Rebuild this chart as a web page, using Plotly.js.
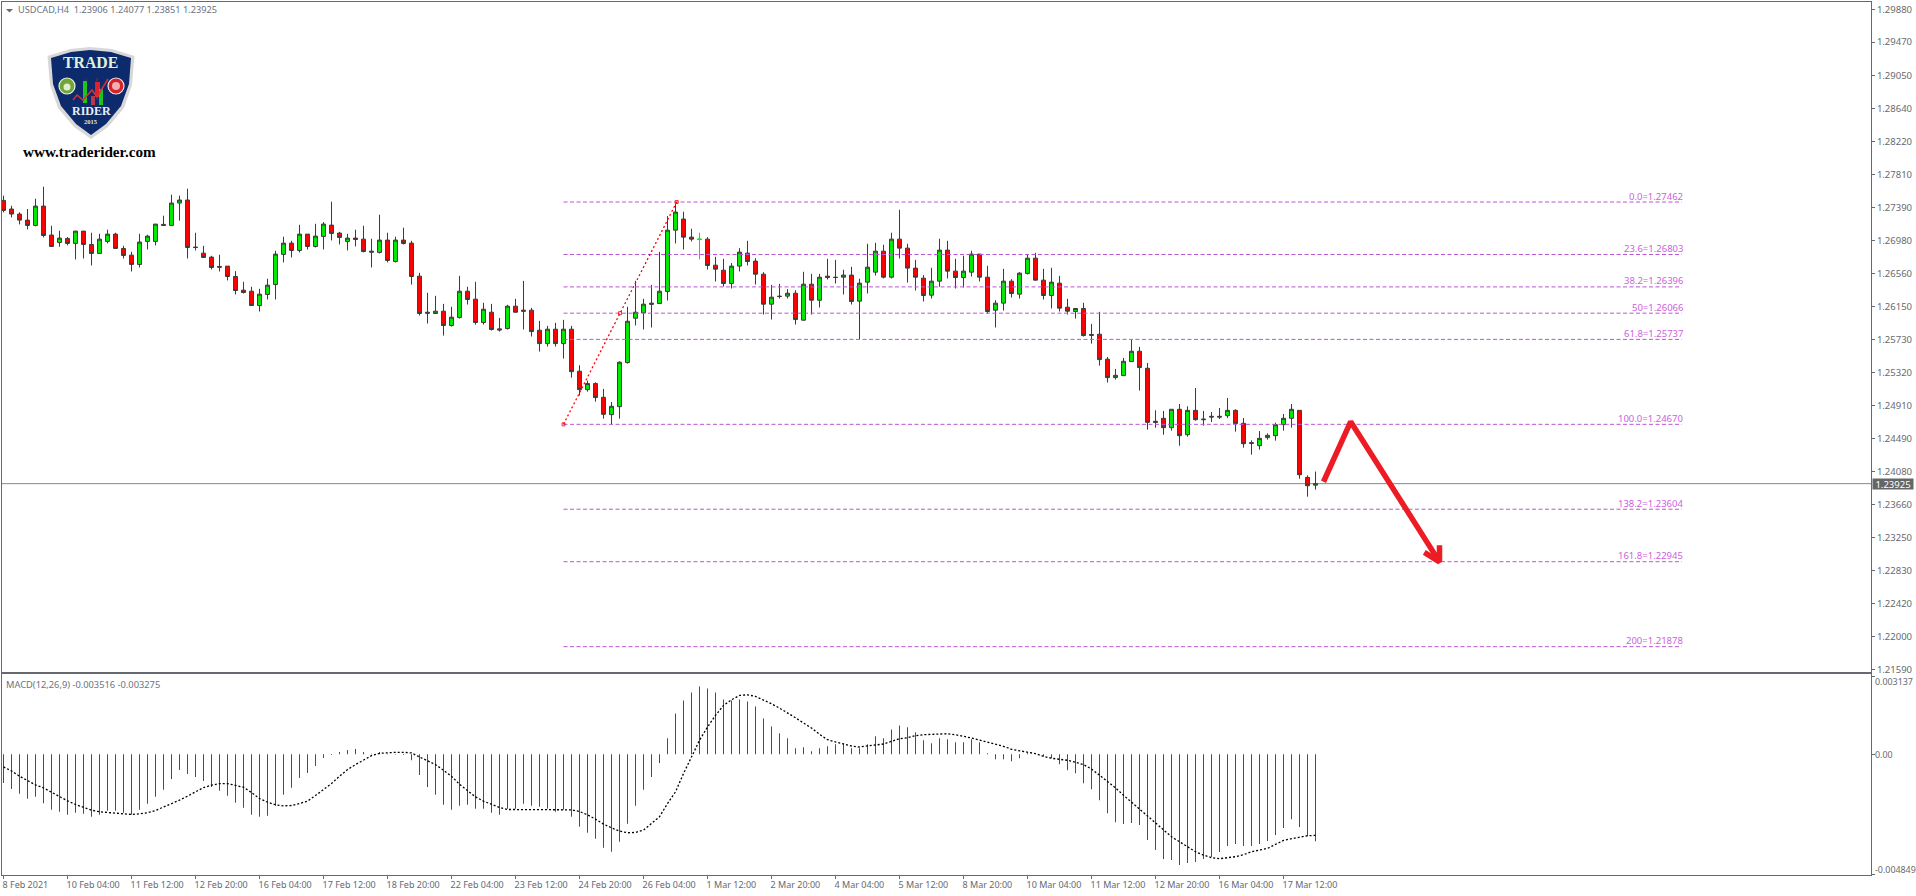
<!DOCTYPE html>
<html>
<head>
<meta charset="utf-8">
<title>USDCAD,H4</title>
<script src="https://cdn.plot.ly/plotly-3.0.1.min.js"></script>
<style>html,body{margin:0;padding:0;background:#fff;overflow:hidden}</style>
</head>
<body>
<div id="chart" style="width:1916px;height:896px"></div>
<script>
// Prices in 1e-5 units
const openPts = [
127482,127374,127311,127235,127168,127411,127047,126954,127005,126942,
127097,126929,126816,126967,127059,126879,126795,126678,126967,126967,
127181,127168,127449,127487,126896,126820,126770,126653,126657,126527,
126355,126342,126162,126301,126426,126804,126946,126854,127059,126904,
127030,127172,127072,126967,127009,126996,126845,126829,126984,126715,
126984,126946,126531,126078,126062,126091,125911,126011,126342,126242,
125949,126078,125869,125873,126154,126104,126104,125852,125684,125865,
125684,125865,125337,125106,125182,125010,124792,124892,125446,126003,
126070,126192,126187,126338,127109,127248,127021,126992,126996,126669,
126606,126439,126657,126820,126720,126556,126179,126280,126280,126317,
125978,126430,126229,126531,126518,126518,126544,126217,126456,126581,
126845,126518,126996,126883,126632,126506,126292,126468,126858,126594,
126514,126581,126808,126518,126104,126192,126468,126305,126565,126757,
126481,126288,126443,126141,126087,126125,125798,125802,125488,125257,
125282,125458,125588,125374,124708,124746,124628,124859,124540,124846,
124737,124771,124771,124779,124846,124683,124440,124402,124503,124528,
124666,124746,124846,124004,123906];
const highPts = [
127541,127415,127332,127374,127503,127654,127164,127101,127021,127097,
127097,127076,127063,127114,127076,126912,126837,127063,127051,127185,
127290,127554,127541,127629,127076,126912,126787,126799,126657,126594,
126460,126397,126372,126498,126850,127026,126975,127176,127059,127189,
127210,127466,127088,127063,127114,127164,127000,127302,127076,127026,
127139,126975,126573,126322,126284,126183,126146,126535,126397,126460,
126196,126183,126007,126171,126246,126472,126133,125970,125907,125944,
125982,125907,125412,125219,125198,125115,124951,125462,126146,126472,
126246,126422,126837,127285,127436,127340,127126,127076,127021,126774,
126749,126695,126883,126975,126757,126581,126422,126435,126368,126355,
126586,126560,126560,126749,126736,126611,126648,126498,126938,126950,
126925,127076,127365,126938,126736,126544,126636,127000,126975,126749,
126787,126850,126808,126661,126229,126623,126493,126581,126799,126824,
126623,126636,126535,126246,126129,126196,125932,126083,125517,125366,
125504,125731,125643,125441,124846,124838,124859,124926,124897,125127,
124838,124825,124876,125001,124859,124750,124469,124586,124557,124691,
124800,124926,124846,124029,124077];
const lowPts = [
127332,127269,127181,127118,127156,127017,126900,126900,126917,126741,
126753,126665,126810,126942,126875,126753,126590,126640,126866,126917,
127165,127165,127227,126753,126854,126762,126615,126590,126477,126301,
126313,126160,126087,126238,126238,126703,126766,126829,126866,126891,
126866,126980,126929,126854,126904,126829,126640,126816,126703,126703,
126929,126426,126037,125936,126058,125785,125898,125999,126175,125923,
125923,125848,125835,125861,126074,125861,125773,125584,125647,125647,
125496,125257,125031,125081,124955,124742,124670,124742,125433,125911,
125861,125886,126183,126225,126942,126866,126967,126741,126615,126464,
126401,126376,126590,126665,126426,126049,125986,126250,126250,125923,
125974,126049,126137,126489,126439,126301,126175,125739,126313,126539,
126502,126502,126753,126451,126351,126213,126250,126397,126502,126376,
126389,126527,126464,126062,125886,126099,126263,126250,126552,126477,
126238,126125,126087,126049,125999,125773,125684,125408,125194,125232,
125278,125454,125094,124603,124628,124540,124591,124402,124515,124716,
124654,124700,124737,124750,124578,124377,124289,124352,124478,124465,
124591,124628,123987,123761,123851];
const closePts = [
127357,127311,127235,127168,127411,127042,126904,127009,126942,127097,
126929,126816,126996,127059,126879,126791,126678,126959,127034,127185,
127168,127449,127487,126891,126891,126766,126640,126644,126527,126351,
126326,126162,126305,126418,126808,126946,126854,127059,126904,127034,
127185,127068,127017,127009,126992,126841,126833,126984,126728,126984,
126942,126527,126062,126066,126091,125911,126016,126342,126238,125949,
126116,125861,125856,126154,126078,126091,125835,125684,125865,125684,
125865,125332,125106,125182,125006,124796,124897,125450,125965,126078,
126179,126179,126342,127109,127336,127021,126996,126996,126665,126619,
126439,126657,126833,126715,126556,126179,126267,126275,126317,125986,
126430,126229,126518,126514,126514,126544,126213,126443,126644,126845,
126518,126996,126883,126632,126518,126288,126468,126858,126594,126514,
126594,126808,126518,126087,126192,126468,126313,126569,126757,126481,
126288,126456,126129,126091,126125,125785,125789,125483,125257,125286,
125462,125588,125383,124695,124695,124628,124859,124528,124846,124729,
124729,124762,124762,124846,124679,124427,124431,124494,124532,124666,
124746,124859,124037,123899,123925];
const highlightIndex = 87;   // the one bright-green doji

// MACD in 1e-6 units
const macdHistPts = [
-1155,-1397,-1598,-1800,-1719,-1974,-2243,-2323,-2444,-2364,
-2404,-2525,-2444,-2283,-2283,-2364,-2444,-2243,-2001,-1719,
-1437,-994,-631,-792,-913,-1074,-1316,-1477,-1679,-1961,
-2162,-2444,-2525,-2485,-2082,-1638,-1356,-954,-752,-470,
-148,-27,94,175,215,94,27,94,27,-13,
-27,-242,-833,-1316,-1638,-2041,-2243,-2082,-2041,-2203,
-2203,-2364,-2444,-2203,-2203,-2001,-2082,-2122,-2203,-2323,
-2243,-2525,-2928,-3169,-3411,-3774,-3935,-3532,-2807,-2082,
-1437,-913,-349,645,1652,2176,2498,2740,2659,2498,
2216,2176,2216,2135,1934,1450,1128,846,645,242,
282,121,242,322,403,443,242,242,403,725,
645,1007,1168,1088,886,564,443,645,604,483,
483,604,483,40,-201,-201,-282,-161,40,5,
-81,-161,-403,-645,-766,-1168,-1410,-1853,-2377,-2740,
-2820,-2780,-2861,-3465,-3868,-4230,-4271,-4472,-4392,-4351,
-4230,-4150,-3948,-3707,-3626,-3707,-3707,-3626,-3505,-3263,
-2981,-2619,-2941,-3304,-3516];
const macdSignalPts = [
-510,-672,-886,-1074,-1236,-1356,-1531,-1719,-1880,-2028,
-2135,-2256,-2323,-2350,-2391,-2404,-2431,-2404,-2364,-2270,
-2135,-2015,-1853,-1692,-1531,-1343,-1249,-1182,-1182,-1249,
-1330,-1544,-1786,-1934,-2041,-2082,-2068,-1988,-1894,-1665,
-1424,-1182,-886,-618,-416,-242,-54,40,67,81,
81,54,-107,-269,-416,-645,-886,-1209,-1450,-1719,
-1894,-2015,-2149,-2229,-2229,-2229,-2229,-2229,-2229,-2256,
-2229,-2243,-2310,-2444,-2619,-2820,-2968,-3102,-3169,-3156,
-3062,-2793,-2525,-1988,-1518,-779,-134,564,1101,1571,
1974,2203,2377,2404,2337,2203,2041,1867,1679,1477,
1262,1061,806,591,497,403,336,295,322,376,
416,510,631,672,752,792,806,833,833,792,
739,658,577,497,403,322,201,148,107,27,
-81,-161,-201,-242,-322,-416,-591,-846,-1074,-1356,
-1652,-1934,-2216,-2498,-2767,-3062,-3331,-3532,-3734,-3935,
-4069,-4177,-4217,-4190,-4136,-4056,-3935,-3868,-3801,-3640,
-3478,-3411,-3344,-3290,-3275];

const fibPrices = [1.27462,1.26803,1.26396,1.26066,1.25737,1.24670,1.23604,1.22945,1.21878];
const fibLabels = ["0.0=1.27462","23.6=1.26803","38.2=1.26396","50=1.26066","61.8=1.25737","100.0=1.24670","138.2=1.23604","161.8=1.22945","200=1.21878"];
const fibBarStart = 70, fibBarEnd = 209.8;
const fibTrendBars = [70, 77.07, 84.15];
const fibTrendPrices = [1.24670, 1.26066, 1.27462];
const arrowBars = [165, 168.4, 179.5];
const arrowPrices = [1.23949, 1.24703, 1.22943];
const arrowHeadBars = [177.6, 179.5, 179.5];
const arrowHeadPrices = [1.23061, 1.22943, 1.23153];
const lastPrice = 1.23925;

const priceTicks = [1.2988,1.2947,1.2905,1.2864,1.2822,1.2781,1.2739,1.2698,1.2656,1.2615,1.2573,1.2532,1.2491,1.2449,1.2408,1.2366,1.2325,1.2283,1.2242,1.22,1.2159];
const macdTicks = [0.003137, 0, -0.004849];
const macdTickLabels = ["0.003137","0.00","-0.004849"];
const dateTickBars = [0,8,16,24,32,40,48,56,64,72,80,88,96,104,112,120,128,136,144,152,160];
const dateTickLabels = ["8 Feb 2021","10 Feb 04:00","11 Feb 12:00","12 Feb 20:00","16 Feb 04:00","17 Feb 12:00","18 Feb 20:00","22 Feb 04:00","23 Feb 12:00","24 Feb 20:00","26 Feb 04:00","1 Mar 12:00","2 Mar 20:00","4 Mar 04:00","5 Mar 12:00","8 Mar 20:00","10 Mar 04:00","11 Mar 12:00","12 Mar 20:00","16 Mar 04:00","17 Mar 12:00"];

const headerText = "USDCAD,H4\u00A0\u00A01.23906 1.24077 1.23851 1.23925";
const macdText = "MACD(12,26,9) -0.003516 -0.003275";

const bars = openPts.map((_, i) => i);
const toPrice = p => p / 1e5;
const open = openPts.map(toPrice), high = highPts.map(toPrice), low = lowPts.map(toPrice), close = closePts.map(toPrice);
const hist = macdHistPts.map(v => v / 1e6), signal = macdSignalPts.map(v => v / 1e6);
const only = (arr, keep) => arr.map((v, i) => (i === highlightIndex) === keep ? v : null);

const FONT = "Noto Sans, sans-serif";
const GREY = "#666a70";
const WICK = "#3c3c3c";
const PW = 1869, PH = 873, ML = 2, MT = 2;
const px = x => (x - ML) / PW;
const py = y => (PH + MT - y) / PH;

const fibX = [], fibY = [];
fibPrices.forEach(p => { fibX.push(fibBarStart, fibBarEnd, null); fibY.push(p, p, null); });

const traces = [
  {type:"scatter", mode:"lines", x:fibX, y:fibY, line:{color:"#BA55D3", width:1, dash:"4px,2.5px"}, hoverinfo:"skip"},
  {type:"candlestick", x:bars, open:only(open,false), high:only(high,false), low:only(low,false), close:only(close,false),
   increasing:{line:{color:WICK,width:1}, fillcolor:"#00EE00"},
   decreasing:{line:{color:WICK,width:1}, fillcolor:"#FF0000"}, whiskerwidth:0, hoverinfo:"skip"},
  {type:"candlestick", x:bars, open:only(open,true), high:only(high,true), low:only(low,true), close:only(close,true),
   increasing:{line:{color:"#00EE00",width:1}, fillcolor:"#00EE00"},
   decreasing:{line:{color:"#00EE00",width:1}, fillcolor:"#00EE00"}, whiskerwidth:0, hoverinfo:"skip"},
  {type:"scatter", mode:"lines+markers", x:fibTrendBars, y:fibTrendPrices,
   line:{color:"#FF0000", width:1.3, dash:"2px,2.5px"},
   marker:{symbol:"square-open", size:3, color:"rgba(255,0,0,0.8)", line:{width:1,color:"rgba(255,0,0,0.8)"}}, hoverinfo:"skip"},
  {type:"scatter", mode:"lines", x:arrowBars, y:arrowPrices, line:{color:"#ED1C24", width:5.5}, hoverinfo:"skip"},
  {type:"scatter", mode:"lines", x:arrowHeadBars, y:arrowHeadPrices, line:{color:"#ED1C24", width:5.5}, hoverinfo:"skip"},
  {type:"bar", x:bars, y:hist, xaxis:"x2", yaxis:"y2", width:0.125, marker:{color:"#FF0000", line:{width:0}}, hoverinfo:"skip"},
  {type:"scatter", mode:"lines", x:bars, y:signal, xaxis:"x2", yaxis:"y2", line:{color:"#000000", width:1.3, dash:"2px,2px"}, hoverinfo:"skip"}
];

const annFont = (size, color, family, weight) => ({size, color, family:family||FONT, weight:weight||400});
const annotations = [];
const pxNote = (text, x, y, font, anchor) => annotations.push({text, xref:"paper", yref:"paper", x:px(x), y:py(y), xanchor:anchor||"left", yanchor:"middle", showarrow:false, font, borderpad:0, borderwidth:0});

pxNote(headerText, 18, 10, annFont(9.2, "#6b7380"));
pxNote(macdText, 6, 684, annFont(9.3, "#6b7380"));
fibLabels.forEach((t, k) => annotations.push({text:t, xref:"x", yref:"y", x:fibBarEnd, y:fibPrices[k], xanchor:"right", yanchor:"middle", xshift:2, yshift:6, showarrow:false, font:annFont(9.5, "#CC5FDD"), borderpad:0}));
annotations.push({text:lastPrice.toFixed(5), xref:"paper", yref:"y", x:px(1872), y:lastPrice, xanchor:"left", yanchor:"middle", showarrow:false, font:annFont(9.5,"#ffffff"), bgcolor:"#666666", width:40, height:10, borderpad:0});
const macdShift = [-5, 0, 5];
macdTickLabels.forEach((t,k)=>annotations.push({text:t, xref:"paper", yref:"y2", x:px(1874), y:macdTicks[k], xanchor:"left", yanchor:"middle", yshift:macdShift[k], showarrow:false, font:annFont(8.9,GREY), borderpad:0}));

// logo text
pxNote("TRADE", 90, 63, annFont(15.8,"#dff2d8","Liberation Serif",700), "center");
pxNote("RIDER", 91, 111, annFont(12,"#e8f0f4","Liberation Serif",700), "center");
pxNote("2015", 91, 122, annFont(6.5,"#dfe8c8","Liberation Serif",700), "center");
pxNote("www.traderider.com", 89, 151.7, annFont(15.2,"#000000","Liberation Serif",700), "center");

const pathP = pts => "M" + pts.map(p => px(p[0]) + "," + py(p[1])).join(" L") + " Z";
const openP = pts => "M" + pts.map(p => px(p[0]) + "," + py(p[1])).join(" L");
const shieldOuter = [[47.5,56],[70,49],[90,47],[112,49],[134.5,56],[132,85],[124,108],[108,127],[91,139],[74,127],[58,108],[50,85]];
const shieldInner = [[51,58],[71,52],[90,50],[111,52],[131,58],[129,84],[121,106],[106,124],[91,135],[76,124],[61,106],[53,84]];
const rectP = (x0,y0,x1,y1,fill) => ({type:"rect", xref:"paper", yref:"paper", x0:px(x0), x1:px(x1), y0:py(y0), y1:py(y1), fillcolor:fill, line:{width:0}, layer:"above"});
const circP = (cx,cy,r,fill,ln,w) => ({type:"circle", xref:"paper", yref:"paper", x0:px(cx-r), x1:px(cx+r), y0:py(cy-r), y1:py(cy+r), fillcolor:fill, line:{width:w===undefined?1:w,color:ln||"#ffffff"}, layer:"above"});

const shapes = [
  {type:"line", xref:"paper", yref:"y", x0:0, x1:1, y0:lastPrice, y1:lastPrice, line:{color:"#7f8890", width:1}, layer:"below"},
  {type:"path", xref:"paper", yref:"paper", path:pathP([[6,9],[13,9],[9.5,12.5]]), fillcolor:"#6b6b6b", line:{width:0}},
  {type:"path", xref:"paper", yref:"paper", path:pathP(shieldOuter), fillcolor:"#d8d8d8", line:{width:0}, layer:"above"},
  {type:"path", xref:"paper", yref:"paper", path:pathP(shieldInner), fillcolor:"#0d2a6c", line:{width:0}, layer:"above"},
  rectP(80,71,105,73,"#0d2a6c"),
  circP(67,86,8,"#6fa53a","#eaf2e0",1.2),
  circP(67,87,3.5,"#e4ecd0","#e4ecd0",0),
  circP(116,86,8,"#d8222a","#f4e4e4",1.2),
  circP(116,86,4,"#eeb0b0","#eeb0b0",0),
  rectP(85.5,78,86.5,105,"#1b3a80"),
  rectP(83,81,87,103,"#1fc31f"),
  rectP(96.5,78,97.5,100,"#444444"),
  rectP(95,82,100,97,"#e0202a"),
  rectP(99,89,103,105,"#1fc31f"),
  rectP(91,96,95,105,"#b83a4a"),
  {type:"path", xref:"paper", yref:"paper", path:openP([[73,100],[77,95],[83,100],[92,90],[97,97],[108,79]]), fillcolor:"rgba(0,0,0,0)", line:{width:1.5,color:"#d8303a"}, layer:"above"}
];

const layout = {
  width:1916, height:896, autosize:false,
  margin:{l:ML, r:45, t:MT, b:21, pad:0},
  paper_bgcolor:"#ffffff", plot_bgcolor:"#ffffff",
  showlegend:false, hovermode:false, dragmode:false,
  font:{family:FONT, size:9.5, color:GREY},
  barmode:"overlay",
  xaxis:{domain:[0,1], range:[-0.1875,233.4375], anchor:"y", rangeslider:{visible:false}, showgrid:false, zeroline:false,
         showticklabels:false, ticks:"", showline:true, mirror:true, linecolor:GREY, linewidth:1},
  yaxis:{domain:[0.23219,1], range:[1.21556,1.29974], anchor:"x", side:"right", showgrid:false, zeroline:false,
         tickmode:"array", tickvals:priceTicks, ticktext:priceTicks.map(v=>v.toFixed(5)), ticks:"outside", ticklen:3, tickcolor:GREY, tickwidth:1,
         tickfont:{family:FONT,size:9.5,color:GREY}, showline:true, mirror:true, linecolor:GREY, linewidth:1},
  xaxis2:{domain:[0,1], range:[-0.1875,233.4375], anchor:"y2", showgrid:false, zeroline:false,
         tickmode:"array", tickvals:dateTickBars, ticktext:dateTickLabels, tickangle:0, ticks:"outside", ticklen:3, tickcolor:GREY, tickwidth:1,
         ticklabelposition:"outside right", ticklabelshift:-2, ticklabelstandoff:1, tickfont:{family:FONT,size:9,color:GREY}, showline:true, mirror:true, linecolor:GREY, linewidth:1},
  yaxis2:{domain:[0,0.2299], range:[-0.004876,0.003232], anchor:"x2", side:"right", showgrid:false, zeroline:false,
         tickmode:"array", tickvals:macdTicks, ticktext:["","",""], ticks:"outside", ticklen:3, tickcolor:GREY, tickwidth:1,
         showline:true, mirror:true, linecolor:GREY, linewidth:1},
  annotations, shapes
};
Plotly.newPlot("chart", traces, layout, {staticPlot:true, displayModeBar:false});
</script>
</body>
</html>
